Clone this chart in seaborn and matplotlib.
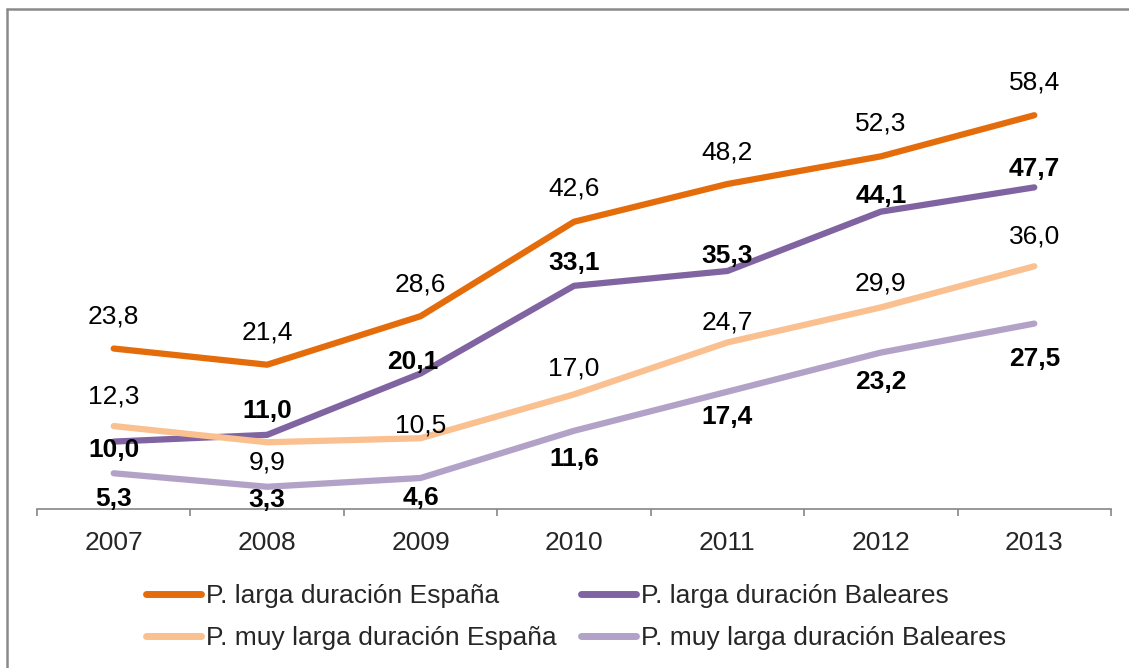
import matplotlib
matplotlib.use("Agg")
import matplotlib.pyplot as plt
from matplotlib.lines import Line2D
import numpy as np
import pandas as pd
import seaborn as sns

# Data
years = ["2007", "2008", "2009", "2010", "2011", "2012", "2013"]
larga_espana = [23.8, 21.4, 28.6, 42.6, 48.2, 52.3, 58.4]
larga_baleares = [10.0, 11.0, 20.1, 33.1, 35.3, 44.1, 47.7]
muy_larga_espana = [12.3, 9.9, 10.5, 17.0, 24.7, 29.9, 36.0]
muy_larga_baleares = [5.3, 3.3, 4.6, 11.6, 17.4, 23.2, 27.5]

series_names = [
    "P. larga duración España",
    "P. larga duración Baleares",
    "P. muy larga duración España",
    "P. muy larga duración Baleares",
]
series_values = [larga_espana, larga_baleares, muy_larga_espana, muy_larga_baleares]
colors = ["#E46C0A", "#8064A2", "#FAC090", "#B3A2C7"]
bold = [False, True, False, True]

# label offsets in pixels (dx, dy) relative to each point
label_offsets = [
    [(0, 32), (0, 32), (0, 32), (0, 33), (0, 32), (0, 33), (0, 33)],
    [(0, -8), (0, 24), (-8, 11), (0, 23), (0, 15), (0, 16), (0, 18)],
    [(0, 30), (0, -20), (0, 13), (0, 26), (0, 20), (0, 24), (0, 30)],
    [(0, -26), (0, -13), (0, -20), (0, -28), (0, -25), (0, -29), (0, -35)],
]

rows = []
for name, vals in zip(series_names, series_values):
    for y, v in zip(years, vals):
        rows.append({"year": y, "value": v, "serie": name})
df = pd.DataFrame(rows)

sns.set_style("white")
plt.rcParams["font.family"] = ["Liberation Sans", "DejaVu Sans"]

fig = plt.figure(figsize=(11.29, 6.68), dpi=100)
ax = fig.add_axes([37 / 1129, 0.238, (1111 - 37) / 1129, 0.7066])

sns.lineplot(data=df, x="year", y="value", hue="serie", palette=colors,
             hue_order=series_names, linewidth=4.5, solid_capstyle="round",
             legend=False, ax=ax)

ax.set_xlim(-0.5, 6.5)
ax.set_ylim(0, 70)

for vals, offs, b in zip(series_values, label_offsets, bold):
    for i, (v, (dx, dy)) in enumerate(zip(vals, offs)):
        ax.annotate(f"{v:.1f}".replace(".", ","), (i, v), xytext=(dx, dy),
                    textcoords="offset pixels", ha="center", va="center",
                    fontsize=19, fontweight="bold" if b else "normal",
                    color="black", annotation_clip=False)

for s in ["top", "right", "left"]:
    ax.spines[s].set_visible(False)
ax.spines["bottom"].set_color("#868686")
ax.spines["bottom"].set_linewidth(1.2)
ax.set_yticks([])
ax.set_xticks(range(len(years)))
ax.set_xticklabels(years)
ax.set_xticks(np.arange(-0.5, 7, 1), minor=True)
ax.tick_params(axis="x", which="major", length=0, pad=16, labelsize=19)
ax.tick_params(axis="x", which="minor", length=5, width=1.2, color="#868686",
               direction="out", bottom=True)
ax.set_xlabel("")
ax.set_ylabel("")

# legend filled row by row, like the reference
handles = [Line2D([0], [0], color=c, linewidth=5, solid_capstyle="round") for c in colors]
leg_handles = [handles[0], handles[2], handles[1], handles[3]]
leg_labels = [series_names[0], series_names[2], series_names[1], series_names[3]]
fig.legend(leg_handles, leg_labels, loc="center", ncol=2,
           bbox_to_anchor=(576 / 1129, 1 - 617 / 668), frameon=False,
           fontsize=19, handlelength=2.1, handletextpad=0.2,
           columnspacing=0.9, labelspacing=0.7)

# chart frame (only top and left edges visible in the reference)
fig.add_artist(Line2D([7 / 1129, 7 / 1129], [0, 1 - 9 / 668], color="#8a8a8a", linewidth=1.8))
fig.add_artist(Line2D([7 / 1129, 1], [1 - 9 / 668, 1 - 9 / 668], color="#8a8a8a", linewidth=1.8))

fig.savefig("out.png", dpi=100)
